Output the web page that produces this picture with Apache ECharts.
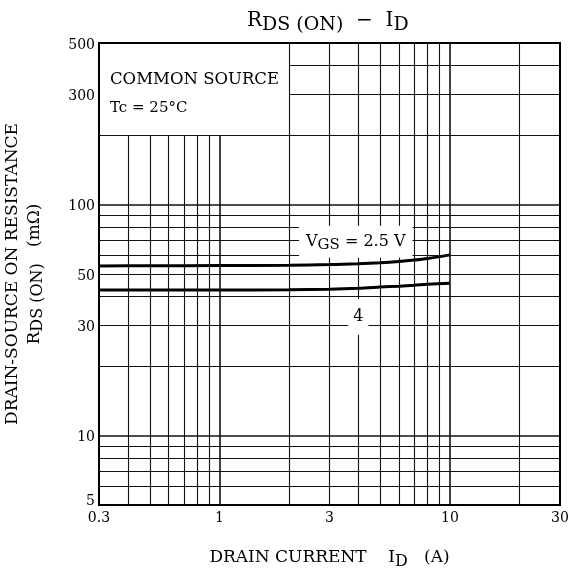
<!DOCTYPE html>
<html>
<head>
<meta charset="utf-8">
<script src="https://cdn.jsdelivr.net/npm/echarts@6/dist/echarts.min.js"></script>
<style>
html,body{margin:0;padding:0;background:#fff;}
#chart{width:579px;height:569px;}
</style>
</head>
<body>
<div id="chart"></div>
<script>
// ---- data ----
const xTickLabels = [0.3, 1, 3, 10, 30];
const yTickLabels = [5, 10, 30, 50, 100, 300, 500];
const xGridValues = [0.4, 0.5, 0.6, 0.7, 0.8, 0.9, 1, 2, 3, 4, 5, 6, 7, 8, 9, 10, 20];
const yGridValues = [6, 7, 8, 9, 10, 20, 30, 40, 50, 60, 70, 80, 90, 100, 200, 300, 400];
const currentA = [0.3, 0.5, 1, 2, 3, 4, 5, 6, 7, 8, 10];
const rdsVgs25 = [54.2, 54.3, 54.4, 54.6, 54.9, 55.4, 56.0, 56.7, 57.5, 58.4, 60.5];
const rdsVgs4  = [42.6, 42.6, 42.6, 42.7, 43.0, 43.4, 43.9, 44.3, 44.7, 45.1, 45.6];
const labelVgs25 = { x: 3.9, y: 69, text: 'V_GS = 2.5 V' };
const labelVgs4 = { x: 4, y: 32.6, text: '4' };

const FONT = 'DejaVu Serif';
const xMin = 0.3, xMax = 30, yMin = 5, yMax = 500;

function isDecade(v){ return Math.abs(Math.log10(v) - Math.round(Math.log10(v))) < 1e-9; }

const gridLines = [];
xGridValues.forEach(v => {
  const top = v <= 1 ? 200 : yMax;
  gridLines.push([{coord:[v, yMin], lineStyle:{width: isDecade(v)?1.6:1.1}}, {coord:[v, top]}]);
});
yGridValues.forEach(v => {
  const left = v >= 300 ? 2 : xMin;
  gridLines.push([{coord:[left, v], lineStyle:{width: isDecade(v)?1.6:1.1}}, {coord:[xMax, v]}]);
});

const chart = echarts.init(document.getElementById('chart'), null, {renderer:'canvas'});
const option = {
  animation: false,
  backgroundColor: '#fff',
  title: {
    text: '{r|R}{s|DS (ON)}{r|  −  I}{s|D}',
    left: 242, top: 2,
    textStyle: {
      fontWeight: 'normal',
      rich: {
        r: {fontFamily: FONT, fontSize: 20, fontWeight: 'normal', color: '#000', lineHeight: 28, verticalAlign: 'middle'},
        s: {fontFamily: FONT, fontSize: 19, fontWeight: 'normal', color: '#000', lineHeight: 28, padding: [8,0,0,0], verticalAlign: 'middle'}
      }
    }
  },
  grid: {left: 99, right: 19, top: 43, bottom: 64, show: true, borderColor: '#000', borderWidth: 2,
    containLabel: false, outerBoundsMode: 'none'},
  xAxis: {
    type: 'log', logBase: 10, min: xMin, max: xMax,
    axisLine: {show: true, lineStyle: {color: '#000', width: 2}},
    axisTick: {show: false},
    splitLine: {show: false},
    axisLabel: {customValues: xTickLabels, fontFamily: FONT, fontSize: 14, color: '#000', margin: 6,
      formatter: v => String(Math.round(v*10)/10)},
    name: '{t|DRAIN CURRENT    I}{s|D}{t|   (A)}',
    nameLocation: 'middle', nameGap: 41,
    nameTextStyle: {rich: {
      t: {fontFamily: FONT, fontSize: 17, color: '#000', lineHeight: 24},
      s: {fontFamily: FONT, fontSize: 16, color: '#000', lineHeight: 24, padding: [8,0,0,0]}
    }}
  },
  yAxis: {
    type: 'log', logBase: 10, min: yMin, max: yMax,
    axisLine: {show: true, lineStyle: {color: '#000', width: 2}},
    axisTick: {show: false},
    splitLine: {show: false},
    axisLabel: {customValues: yTickLabels, fontFamily: FONT, fontSize: 14, color: '#000', margin: 4,
      formatter: v => {
        const s = String(Math.round(v));
        return s === '5' ? '{lo|5}' : '{n|' + s + '}';
      },
      rich: {
        n: {fontFamily: FONT, fontSize: 14, color: '#000', padding: [4,0,0,0]},
        lo: {fontFamily: FONT, fontSize: 14, color: '#000', padding: [0,0,8,0]}
      }
    },
    name: 'DRAIN-SOURCE ON RESISTANCE\n{r|R}{s|DS (ON)}{r|   (mΩ)}',
    nameLocation: 'middle', nameGap: 53, nameRotate: 90,
    nameTextStyle: {fontFamily: FONT, fontSize: 17, color: '#000', lineHeight: 22,
      rich: {
        r: {fontFamily: FONT, fontSize: 17, color: '#000', lineHeight: 22},
        s: {fontFamily: FONT, fontSize: 16, color: '#000', lineHeight: 22, padding: [6,0,0,0]}
      }}
  },
  graphic: [
    {type: 'text', left: 110, top: 71, style: {text: 'COMMON SOURCE', font: '16.5px "DejaVu Serif"', fill: '#000'}},
    {type: 'text', left: 110, top: 101, style: {text: 'Tc = 25°C', font: '15px "DejaVu Serif"', fill: '#000'}}
  ],
  series: [
    {
      type: 'line', data: [], z: 1, silent: true,
      markLine: {
        silent: true, symbol: ['none','none'], animation: false,
        label: {show: false},
        lineStyle: {type: 'solid', color: '#111', width: 1.1},
        emphasis: {disabled: true},
        data: gridLines
      }
    },
    {
      name: 'VGS 2.5', type: 'line', z: 3, smooth: 0.3, showSymbol: false, symbol: 'none',
      lineStyle: {color: '#000', width: 3},
      data: currentA.map((x,i)=>[x, rdsVgs25[i]]),
      markPoint: {
        symbol: 'circle', symbolSize: 1, itemStyle: {color: 'rgba(0,0,0,0)'},
        label: {show: true, position: 'inside', backgroundColor: '#fff', padding: [5,7],
          formatter: '{v|V}{s|GS}{v| = 2.5 V}',
          rich: {
            v: {fontFamily: FONT, fontSize: 16, color: '#000', lineHeight: 22},
            s: {fontFamily: FONT, fontSize: 15, color: '#000', lineHeight: 22, padding: [7,0,0,0]}
          }},
        data: [{coord: [labelVgs25.x, labelVgs25.y]}]
      }
    },
    {
      name: 'VGS 4', type: 'line', z: 3, smooth: 0.3, showSymbol: false, symbol: 'none',
      lineStyle: {color: '#000', width: 3},
      data: currentA.map((x,i)=>[x, rdsVgs4[i]]),
      markPoint: {
        symbol: 'circle', symbolSize: 1, itemStyle: {color: 'rgba(0,0,0,0)'},
        label: {show: true, position: 'inside', backgroundColor: '#fff', padding: [10,5],
          formatter: labelVgs4.text, fontFamily: FONT, fontSize: 16, color: '#000'},
        data: [{coord: [labelVgs4.x, labelVgs4.y]}]
      }
    }
  ]
};
chart.setOption(option);
</script>
</body>
</html>
